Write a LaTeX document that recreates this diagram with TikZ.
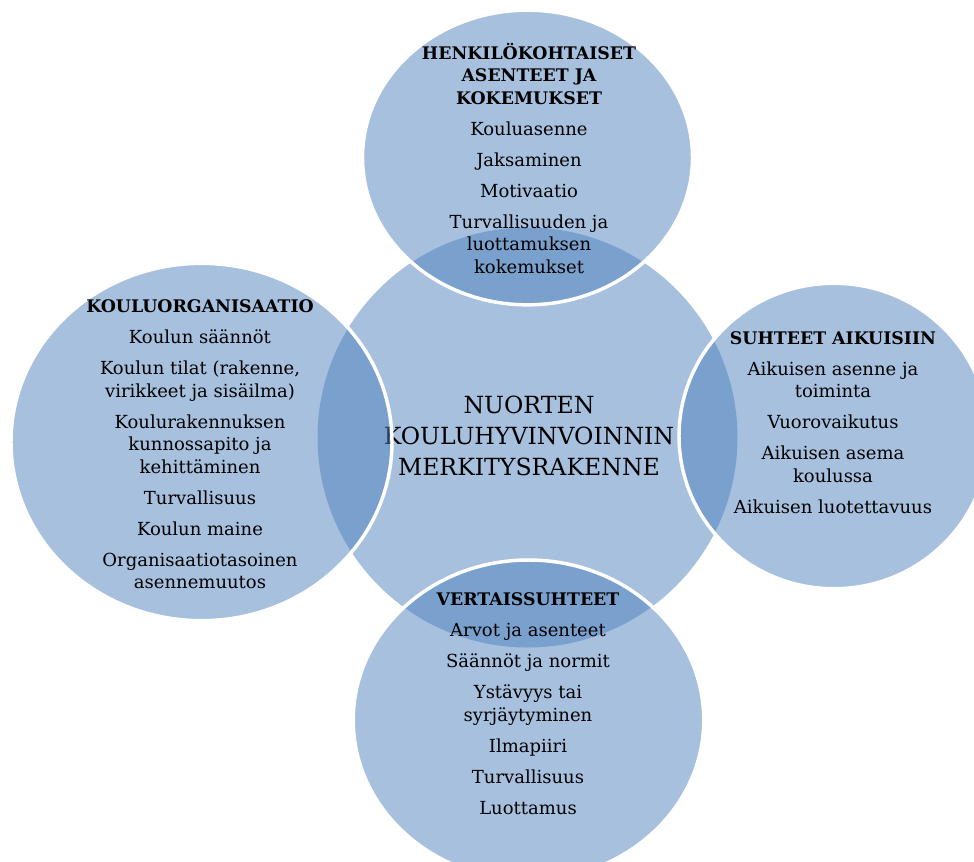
\documentclass[tikz,border=0pt]{standalone}
\usepackage{fontspec}
\setmainfont{DejaVu Serif}
\usetikzlibrary{shapes.geometric}
\definecolor{accblue}{HTML}{4F81BD}
\tikzset{
  bubble/.style={ellipse, fill=accblue, fill opacity=0.5, draw=white, draw opacity=1, line width=2.6pt, inner sep=0pt},
  hub/.style={circle, fill=accblue, fill opacity=0.5, inner sep=0pt, minimum size=315pt},
  itemtext/.style={align=center, font=\fontsize{13.5}{16.875}\selectfont, text=black, inner sep=0pt},
  hubtext/.style={align=center, font=\fontsize{17.7}{23.25}\selectfont, text=black, inner sep=0pt},
}
\newcommand{\igap}{\\[6.375pt]}
\newcommand{\hd}[1]{{\fontsize{13}{16.875}\selectfont\bfseries #1}}
\begin{document}
\begin{tikzpicture}[x=0.75pt,y=-0.75pt]
\useasboundingbox (0,0) rectangle (974,861);
\clip (0,0) rectangle (974,861);
% hub
\node[hub] (hub) at (527.5,437.5) {};
\node[hubtext] (hubtxt) at (529,436) {NUORTEN\\KOULUHYVINVOINNIN\\MERKITYSRAKENNE};
% satellites
\node[bubble, minimum width=247.5pt, minimum height=221pt] (top) at (527.5,157.5) {};
\node[bubble, minimum width=285.75pt, minimum height=268pt] (left) at (201.5,442) {};
\node[bubble, minimum width=232.5pt, minimum height=229.1pt] (right) at (834,436) {};
\node[bubble, minimum width=262.9pt, minimum height=240pt] (bottom) at (528.5,720) {};
% texts
\node[itemtext] (toptxt) at (529,158) {\hd{HENKILÖKOHTAISET}\\\hd{ASENTEET JA}\\\hd{KOKEMUKSET}\igap
Kouluasenne\igap Jaksaminen\igap Motivaatio\igap Turvallisuuden ja\\luottamuksen\\kokemukset};
\node[itemtext] (lefttxt) at (200,444.5) {\hd{KOULUORGANISAATIO}\igap
Koulun säännöt\igap Koulun tilat (rakenne,\\virikkeet ja sisäilma)\igap Koulurakennuksen\\kunnossapito ja\\kehittäminen\igap
Turvallisuus\igap Koulun maine\igap Organisaatiotasoinen\\asennemuutos};
\node[itemtext] (righttxt) at (833,422.5) {\hd{SUHTEET AIKUISIIN}\igap
Aikuisen asenne ja\\toiminta\igap Vuorovaikutus\igap Aikuisen asema\\koulussa\igap Aikuisen luotettavuus};
\node[itemtext] (bottomtxt) at (528,703.5) {\hd{VERTAISSUHTEET}\igap
Arvot ja asenteet\igap Säännöt ja normit\igap Ystävyys tai\\syrjäytyminen\igap Ilmapiiri\igap Turvallisuus\igap Luottamus};
\end{tikzpicture}
\end{document}
